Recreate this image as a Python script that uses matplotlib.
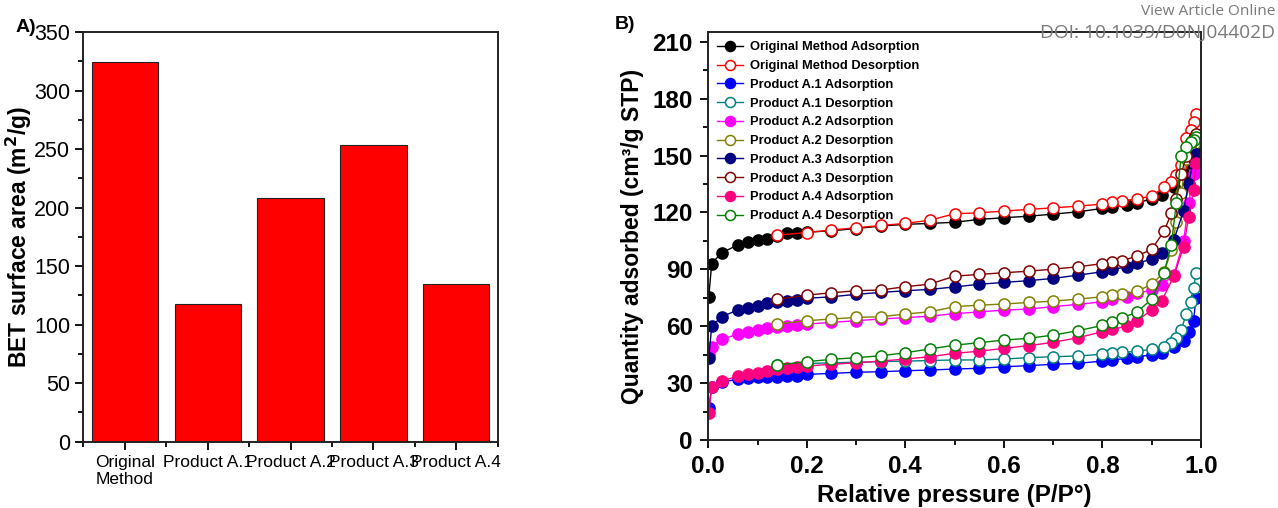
import matplotlib.pyplot as plt
from matplotlib.ticker import MultipleLocator, FixedLocator

plt.rcParams['font.family'] = ['Liberation Sans', 'DejaVu Sans']

# ---- panel A data
samples = ['Original\nMethod', 'Product A.1', 'Product A.2', 'Product A.3', 'Product A.4']
bet_area = [324.5, 118, 208.5, 253.5, 134.5]

# ---- panel B data (relative pressure grids)
ads_p = [0.001, 0.007, 0.027, 0.06, 0.08, 0.10, 0.12, 0.14, 0.16, 0.18, 0.20,
         0.25, 0.30, 0.35, 0.40, 0.45, 0.50, 0.55, 0.60, 0.65, 0.70, 0.75,
         0.80, 0.82, 0.85, 0.87, 0.90, 0.92, 0.945, 0.965, 0.975, 0.985, 0.99]
des_p = [0.99, 0.985, 0.98, 0.97, 0.96, 0.95, 0.94, 0.925, 0.90, 0.87, 0.84,
         0.82, 0.80, 0.75, 0.70, 0.65, 0.60, 0.55, 0.50, 0.45, 0.40, 0.35,
         0.30, 0.25, 0.20, 0.14]

orig_ads = [75.5, 93, 98.7, 102.8, 104.2, 105.4, 106.2, 107.5, 108.9, 109.2, 109.6,
            110.3, 111.5, 112.8, 113.7, 114.2, 114.8, 116.3, 117.2, 118.0, 119.1, 120.3,
            122.1, 122.9, 123.8, 125.2, 127.0, 129.1, 133.2, 140, 146, 150, 153]
orig_des = [172, 167.7, 163.4, 159, 145, 139.6, 136, 133.2, 128.5, 127.2, 125.9,
            125.3, 124.4, 123.3, 122.4, 121.6, 120.7, 119.8, 119.3, 115.9, 114.2, 113.1,
            111.9, 110.7, 109.4, 108]
a1_ads = [17, 28, 30.5, 32, 32.5, 33, 33.4, 33.4, 33.7, 33.9, 34.6,
          35.1, 35.7, 36, 36.5, 36.9, 37.4, 37.8, 38.6, 39.2, 39.9, 40.4,
          41.6, 42.2, 43, 43.9, 44.8, 46, 48.8, 52, 57.1, 62.9, 75]
a1_des = [88.2, 79.9, 72.6, 66.4, 58, 53.6, 51, 49.2, 47.8, 46.8, 46.2,
          45.8, 45.2, 44.3, 43.9, 43.4, 42.7, 42.2, 42.2, 41.9, 41.6, 41.3,
          41, 40.7, 40.3, 39.6]
a2_ads = [45, 49.2, 53.2, 55.7, 57.1, 58, 58.8, 59.4, 60.1, 60.6, 61.1,
          62, 62.9, 63.8, 64.5, 65.3, 66.6, 67.5, 68.5, 69, 70.3, 71.5,
          72.9, 74.1, 75.5, 77.3, 79, 81.7, 86.9, 105, 125, 140, 145]
a2_des = [159, 156, 153, 148, 130, 115, 100, 88.5, 82, 78.5, 76.9,
          76.2, 75.5, 74.3, 73.2, 72.5, 71.7, 71.1, 70.3, 67.6, 66.4, 65,
          64.6, 63.8, 62.9, 61.1]
a3_ads = [43, 60, 65, 68.5, 69.7, 70.8, 72, 72.9, 73.2, 73.8, 74.7,
          75.5, 76.8, 77.8, 78.7, 79.4, 80.7, 82.1, 83.1, 84, 85.2, 86.9,
          88.7, 89.9, 91.3, 93.1, 95.4, 98.7, 105.4, 121, 135, 148, 151]
a3_des = [161.6, 159, 157, 150, 140, 127, 119.5, 110, 100.5, 97, 94.5,
          93.6, 93, 91.3, 90.1, 89, 88.2, 87.3, 86.4, 82.2, 80.8, 79.1,
          78.7, 77.6, 76.4, 74.1]
a4_ads = [14, 28, 31.1, 33.7, 34.6, 35.5, 36.4, 37.2, 37.8, 38.3, 39,
          39.9, 40.7, 41.6, 42.7, 43.9, 45.7, 46.8, 48.3, 49.7, 51.5, 53.9,
          57.1, 58.3, 60.1, 62.9, 68.5, 73.2, 86.4, 102, 117.7, 132, 146]
a4_des = [159.8, 158, 157.2, 154.6, 150, 125, 103, 88, 74.3, 67.4, 64.4,
          62.3, 60.4, 57.6, 55.3, 53.6, 52.7, 51.3, 50, 48, 46, 44.4,
          43.4, 42.5, 41.3, 39.5]

series = [
    ('Original Method Adsorption', ads_p, orig_ads, '#000000', True),
    ('Original Method Desorption', des_p, orig_des, '#FF0000', False),
    ('Product A.1 Adsorption', ads_p, a1_ads, '#0000FF', True),
    ('Product A.1 Desorption', des_p, a1_des, '#008080', False),
    ('Product A.2 Adsorption', ads_p, a2_ads, '#FF00FF', True),
    ('Product A.2 Desorption', des_p, a2_des, '#808000', False),
    ('Product A.3 Adsorption', ads_p, a3_ads, '#000080', True),
    ('Product A.3 Desorption', des_p, a3_des, '#800000', False),
    ('Product A.4 Adsorption', ads_p, a4_ads, '#FF0080', True),
    ('Product A.4 Desorption', des_p, a4_des, '#008000', False),
]

fig = plt.figure(figsize=(12.78, 5.08), dpi=100)

def style_axes(ax):
    for s in ax.spines.values():
        s.set_linewidth(1.4)
        s.set_color('#222222')
    ax.tick_params(which='both', direction='out', top=False, right=False, width=1.3)
    ax.tick_params(which='major', length=6)
    ax.tick_params(which='minor', length=3.5)

# ---- A) bar chart
ax1 = fig.add_axes([0.0652, 0.1305, 0.3243, 0.8065])
xs = range(len(samples))
ax1.bar(xs, bet_area, width=0.8, color='#FF0000', edgecolor='#222222', linewidth=0.8)
ax1.set_xlim(-0.5, 4.5)
ax1.set_ylim(0, 350)
ax1.set_xticks(list(xs))
ax1.set_xticklabels(samples, fontsize=12.5)
ax1.xaxis.set_minor_locator(FixedLocator([i + 0.5 for i in range(-1, 5)]))
ax1.yaxis.set_major_locator(MultipleLocator(50))
ax1.yaxis.set_minor_locator(MultipleLocator(25))
for lab in ax1.get_yticklabels():
    lab.set_fontsize(15.5)
ax1.set_ylabel('BET surface area (m$^\\mathbf{2}$/g)', fontsize=16.5, fontweight='bold')
ax1.yaxis.set_label_coords(-0.118, 0.5)
style_axes(ax1)
fig.text(0.012, 0.945, 'A)', fontsize=14, fontweight='bold', va='center')

# ---- B) isotherms
ax2 = fig.add_axes([0.5542, 0.1339, 0.3855, 0.8026])
for label, p, q, c, filled in series:
    ax2.plot(p, q, '-o', color=c, lw=1.0, ms=8, mew=1.1,
             mfc=c if filled else 'white', mec=c, label=label)
ax2.set_xlim(0, 1.0)
ax2.set_ylim(0, 215)
ax2.xaxis.set_major_locator(MultipleLocator(0.2))
ax2.xaxis.set_minor_locator(MultipleLocator(0.1))
ax2.yaxis.set_major_locator(MultipleLocator(30))
ax2.yaxis.set_minor_locator(MultipleLocator(15))
ax2.set_xticks([0, 0.2, 0.4, 0.6, 0.8, 1.0])
ax2.set_xticklabels(['0.0', '0.2', '0.4', '0.6', '0.8', '1.0'])
for lab in ax2.get_xticklabels() + ax2.get_yticklabels():
    lab.set_fontsize(17.5)
    lab.set_fontweight('bold')
ax2.set_xlabel('Relative pressure (P/P°)', fontsize=17.5, fontweight='bold', labelpad=4)
ax2.set_ylabel('Quantity adsorbed (cm³/g STP)', fontsize=16.5, fontweight='bold', labelpad=6)
style_axes(ax2)
ax2.tick_params(which='major', pad=5)
leg = ax2.legend(loc='upper left', frameon=False, prop={'size': 9.3, 'weight': 'bold'},
                 handlelength=2.0, handletextpad=0.5, labelspacing=0.52,
                 borderaxespad=0.3, markerscale=0.9)
fig.text(0.481, 0.952, 'B)', fontsize=14, fontweight='bold', va='center')

# journal watermark
fig.text(0.998, 0.978, 'View Article Online', ha='right', va='center',
         fontsize=11.1, color='#7a7a7a', family='Open Sans')
fig.text(0.998, 0.935, 'DOI: 10.1039/D0NJ04402D', ha='right', va='center',
         fontsize=13.8, color='#7a7a7a', family='Open Sans')

fig.savefig('out.png', dpi=100)
